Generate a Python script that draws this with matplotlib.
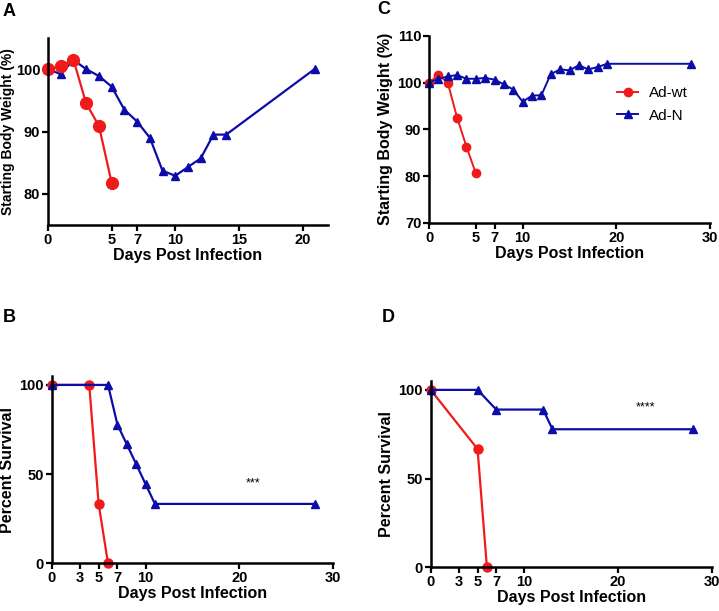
import matplotlib
matplotlib.use("Agg")
import matplotlib.pyplot as plt

plt.rcParams['font.family'] = ['Liberation Sans', 'DejaVu Sans']

RED = '#f01a1a'
BLUE = '#0c0ca8'

# panel A: body weight, experiment 1
a_wt_days = [0, 1, 2, 3, 4, 5]
a_wt_weight = [100, 100.5, 101.5, 94.5, 90.9, 81.8]
a_n_days = [0, 1, 2, 3, 4, 5, 6, 7, 8, 9, 10, 11, 12, 13, 14, 21]
a_n_weight = [100, 99.2, 101.5, 100, 98.9, 97.2, 93.5, 91.6, 89, 83.7, 82.9,
              84.3, 85.7, 89.5, 89.5, 100.1]

# panel C: body weight, experiment 2
c_wt_days = [0, 1, 2, 3, 4, 5]
c_wt_weight = [100, 101.6, 100, 92.5, 86.3, 80.6]
c_n_days = [0, 1, 2, 3, 4, 5, 6, 7, 8, 9, 10, 11, 12, 13, 14, 15, 16, 17,
            18, 19, 28]
c_n_weight = [100, 100.8, 101.3, 101.6, 100.8, 100.8, 101.0, 100.6, 99.6,
              98.5, 95.9, 97.2, 97.3, 101.8, 102.8, 102.6, 103.7, 102.8,
              103.3, 104.0, 104.0]

# panel B: survival, experiment 1
b_wt_days = [0, 4, 5, 6]
b_wt_surv = [100, 100, 33.3, 0]
b_n_days = [0, 6, 7, 8, 9, 10, 11, 28]
b_n_surv = [100, 100, 77.8, 66.7, 55.6, 44.4, 33.3, 33.3]

# panel D: survival, experiment 2
d_wt_days = [0, 5, 6]
d_wt_surv = [100, 66.7, 0]
d_n_days = [0, 5, 7, 12, 13, 28]
d_n_surv = [100, 100, 88.9, 88.9, 77.8, 77.8]

W, H = 719, 611


def make_axes(fig, left, top, right, bottom):
    return fig.add_axes([left / W, 1 - bottom / H, (right - left) / W, (bottom - top) / H])


def style(ax, xticks, yticks, xlim, ylim, ylabel, ylabel_size=11.5):
    ax.set_xlim(*xlim)
    ax.set_ylim(*ylim)
    ax.set_xticks(xticks)
    ax.set_yticks(yticks)
    for s in ['top', 'right']:
        ax.spines[s].set_visible(False)
    for s in ['left', 'bottom']:
        ax.spines[s].set_linewidth(1.8)
    ax.tick_params(width=1.6, length=4, labelsize=10.5, pad=1.5)
    for lab in ax.get_xticklabels() + ax.get_yticklabels():
        lab.set_fontweight('bold')
    ax.set_xlabel("Days Post Infection", fontsize=11.5, fontweight='bold', labelpad=1)
    ax.set_ylabel(ylabel, fontsize=ylabel_size, fontweight='bold', labelpad=3)


fig = plt.figure(figsize=(W / 100, H / 100), dpi=100)

# ---- A ----
ax = make_axes(fig, 48, 38, 328, 225)
ax.plot(a_n_days, a_n_weight, color=BLUE, marker='^', ms=6, lw=1.6, clip_on=False)
ax.plot(a_wt_days, a_wt_weight, color=RED, marker='o', ms=8.5, lw=1.6, clip_on=False)
style(ax, [0, 5, 7, 10, 15, 20], [80, 90, 100], (0, 22), (75, 105),
      "Starting Body Weight (%)", ylabel_size=10)
ax.yaxis.set_label_coords(-0.118, 0.5)
fig.text(3 / W, 1 - 12 / H, "A", fontsize=13, fontweight='bold', va='center')

# ---- C ----
ax = make_axes(fig, 429, 35.7, 710, 223)
ax.plot(c_wt_days, c_wt_weight, color=RED, marker='o', ms=6, lw=1.4,
        clip_on=False, label='Ad-wt')
ax.plot(c_n_days, c_n_weight, color=BLUE, marker='^', ms=5.5, lw=1.4,
        clip_on=False, label='Ad-N')
style(ax, [0, 5, 7, 10, 20, 30], [70, 80, 90, 100, 110], (0, 30), (70, 110),
      "Starting Body Weight (%)")
ax.legend(loc='upper left', bbox_to_anchor=(0.669, 0.73), frameon=False,
          fontsize=11, handlelength=1.4, handletextpad=0.7, labelspacing=0.55,
          borderpad=0, borderaxespad=0)
fig.text(377 / W, 1 - 10 / H, "C", fontsize=13, fontweight='bold', va='center')

# ---- B ----
ax = make_axes(fig, 51.7, 376, 333.3, 563.3)
ax.plot(b_wt_days, b_wt_surv, color=RED, marker='o', ms=6.5, lw=1.6, clip_on=False)
ax.plot(b_n_days, b_n_surv, color=BLUE, marker='^', ms=6, lw=1.6, clip_on=False)
style(ax, [0, 3, 5, 7, 10, 20, 30], [0, 50, 100], (0, 30), (0, 105),
      "Percent Survival")
ax.text(21.4, 45, "***", fontsize=9, ha='center', va='center')
fig.text(3 / W, 1 - 317 / H, "B", fontsize=13, fontweight='bold', va='center')

# ---- D ----
ax = make_axes(fig, 430.7, 381, 711.7, 567.3)
ax.plot(d_wt_days, d_wt_surv, color=RED, marker='o', ms=6.5, lw=1.6, clip_on=False)
ax.plot(d_n_days, d_n_surv, color=BLUE, marker='^', ms=6, lw=1.6, clip_on=False)
style(ax, [0, 3, 5, 7, 10, 20, 30], [0, 50, 100], (0, 30), (0, 105),
      "Percent Survival")
ax.text(22.9, 90, "****", fontsize=9, ha='center', va='center')
fig.text(382 / W, 1 - 317 / H, "D", fontsize=13, fontweight='bold', va='center')

fig.savefig("out.png", dpi=100)
